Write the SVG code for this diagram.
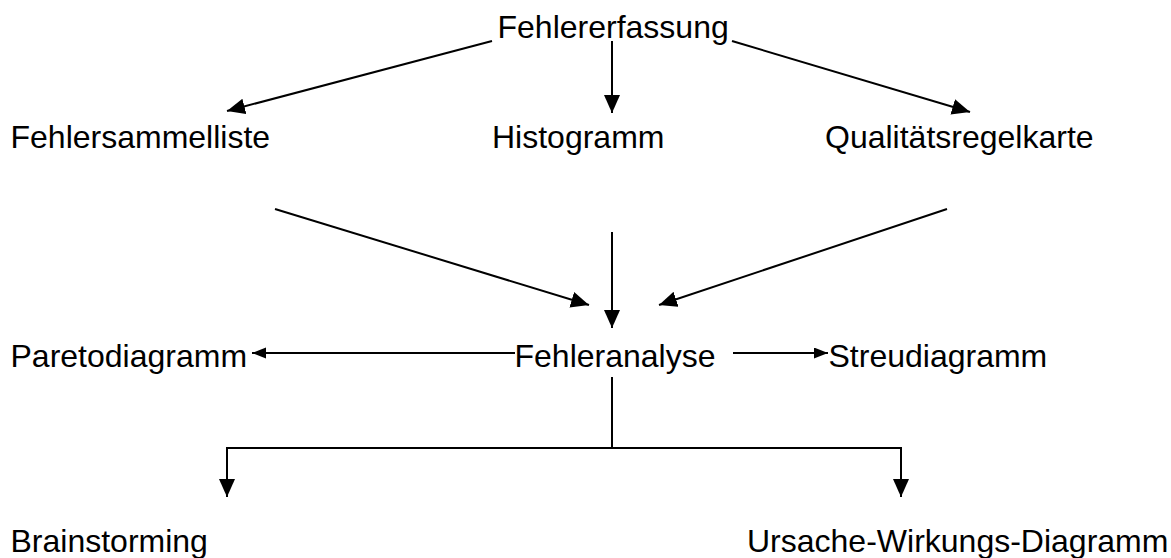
<svg xmlns="http://www.w3.org/2000/svg" width="1171" height="558" viewBox="0 0 1171 558">
<style>
text { font-family: "Liberation Sans", Arial, sans-serif; font-size: 32px; fill: #000; }
.c { fill: none; stroke: #000; stroke-width: 2; }
.a { marker-end: url(#ah); }
.s { marker-end: url(#as); }
</style>
<defs>
<marker id="ah" markerUnits="userSpaceOnUse" markerWidth="19" markerHeight="17" refX="18" refY="8" orient="auto">
<path d="M0,0 L18,8 L0,16 z" fill="#000"/>
</marker>
<marker id="as" markerUnits="userSpaceOnUse" markerWidth="15" markerHeight="12" refX="14" refY="5.5" orient="auto">
<path d="M0,0 L14,5.5 L0,11 z" fill="#000"/>
</marker>
</defs>
<rect width="1171" height="558" fill="#fff"/>
<g id="connectors">
<line class="c a" x1="492" y1="41" x2="227" y2="111"/>
<line class="c a" x1="612" y1="41" x2="612" y2="113"/>
<line class="c a" x1="732" y1="41" x2="970" y2="112"/>
<line class="c a" x1="275" y1="209" x2="589" y2="305"/>
<line class="c a" x1="612" y1="232" x2="612" y2="328"/>
<line class="c a" x1="947" y1="209" x2="659" y2="305"/>
<line class="c s" x1="515" y1="353" x2="252" y2="353"/>
<line class="c s" x1="733" y1="353" x2="828" y2="353"/>
<line class="c" x1="612" y1="377" x2="612" y2="448"/>
<path class="c a" d="M612,448 H227 V497"/>
<path class="c a" d="M612,448 H901 V497"/>
</g>
<g id="n-fehlererfassung"><text x="497.5" y="38">Fehlererfassung</text></g>
<g id="n-fehlersammelliste"><text x="10.5" y="148">Fehlersammelliste</text></g>
<g id="n-histogramm"><text x="492" y="148">Histogramm</text></g>
<g id="n-qualitaetsregelkarte"><text x="825" y="148">Qualitätsregelkarte</text></g>
<g id="n-paretodiagramm"><text x="10.5" y="367">Paretodiagramm</text></g>
<g id="n-fehleranalyse"><text x="514.5" y="367">Fehleranalyse</text></g>
<g id="n-streudiagramm"><text x="828.5" y="367">Streudiagramm</text></g>
<g id="n-brainstorming"><text x="10.5" y="552">Brainstorming</text></g>
<g id="n-ursache"><text x="747" y="552">Ursache-Wirkungs-Diagramm</text></g>
</svg>
